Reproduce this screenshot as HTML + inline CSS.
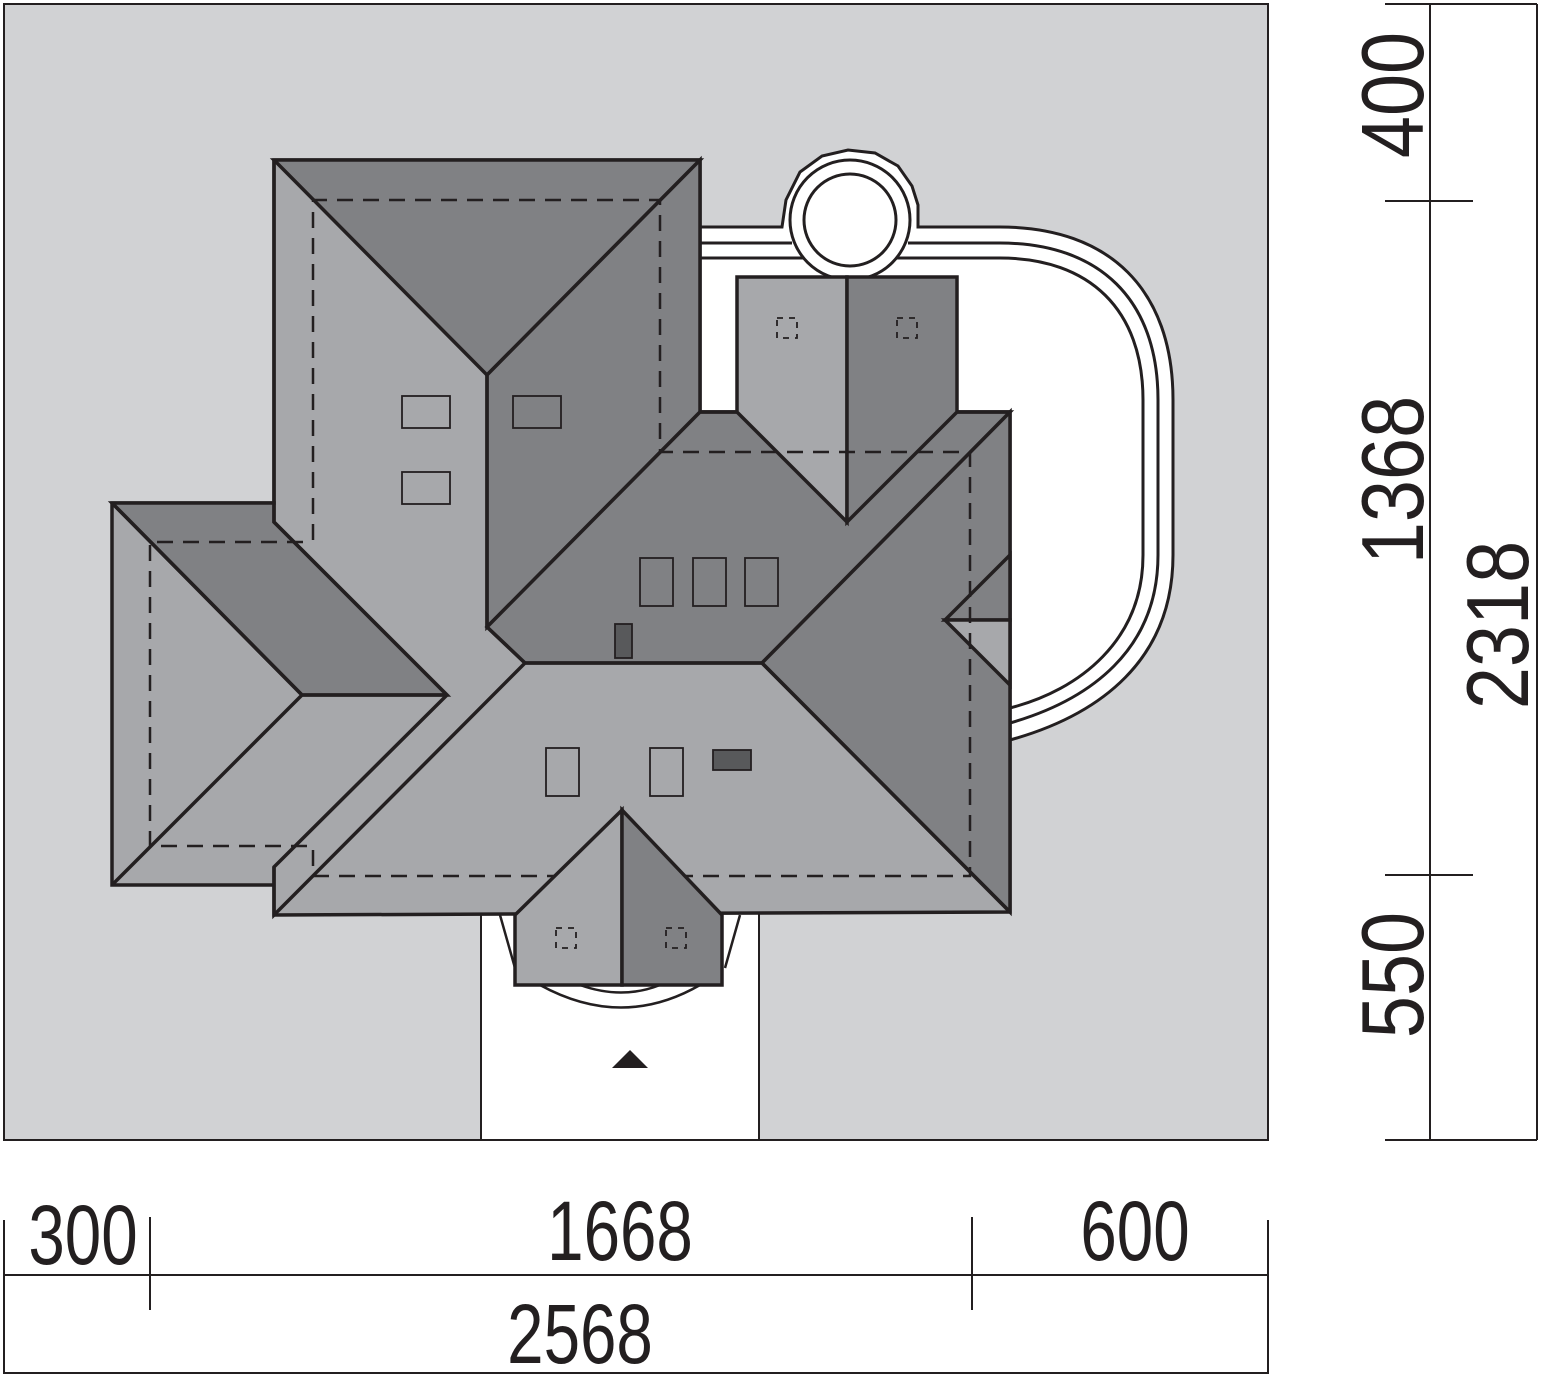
<!DOCTYPE html>
<html><head><meta charset="utf-8"><style>
html,body{margin:0;padding:0;background:#fff;}
svg{display:block;}
text{font-family:"Liberation Sans",sans-serif;fill:#231f20;}
</style></head><body>
<svg width="1541" height="1376" viewBox="0 0 1541 1376" xmlns="http://www.w3.org/2000/svg">
<rect x="0" y="0" width="1541" height="1376" fill="#fff"/>
<rect x="4" y="4" width="1264" height="1136" fill="#d1d2d4" stroke="#231f20" stroke-width="2"/>

<path d="M700,227 H782 L786,200 L800,172 L822,156 L848,150 L875,153 L898,166 L912,186 L918,205 L918,227 H1000 C1110,227 1173,290 1173,400 V555 C1173,660 1100,715 1010,740 V420 H700 Z" fill="#fff"/>
<g fill="none" stroke="#231f20" stroke-width="3">
<path d="M700,227 H782 L786,200 L800,172 L822,156 L848,150 L875,153 L898,166 L912,186 L918,205 L918,227 H1000 C1110,227 1173,290 1173,400 V555 C1173,660 1100,715 1010,740"/>
<path d="M700,243 H792 M908,243 H1000 C1100,243 1158,300 1158,400 V555 C1158,650 1090,700 1010,723"/>
<path d="M700,258 H1000 C1090,258 1143,310 1143,400 V555 C1143,640 1080,690 1010,708"/>
<circle cx="850" cy="220" r="60" fill="#fff"/>
<circle cx="850" cy="220" r="46"/>
</g>

<rect x="481" y="912" width="278" height="228" fill="#fff" stroke="#231f20" stroke-width="2"/>
<g fill="none" stroke="#231f20" stroke-width="2.5">
<path d="M540,985 Q622,1030 700,985"/>
<path d="M580,985 Q622,1000 660,985"/>
<path d="M500,915 L515,968 M740,915 L725,968"/>
</g>
<polygon points="612,1068 648,1068 630,1050" fill="#231f20"/>

<g stroke="#231f20" stroke-width="3.5" stroke-linejoin="miter">
<polygon fill="#a7a8ab" points="274,160 700,160 700,412 1010,412 1010,912 274,915 274,867 274,885 112,885 112,503 274,503"/>
<polygon fill="#808184" points="274,160 700,160 487,375"/>
<polygon fill="#808184" points="700,160 700,412 487,627 487,375"/>
<polygon fill="#808184" points="487,627 700,412 1010,412 762,663 525,663"/>
<polygon fill="#808184" points="1010,412 1010,912 762,663"/>
<polygon fill="#808184" points="112,503 274,503 274,522 447,695 302,695"/>
<polygon fill="#a7a8ab" points="737,277 847,277 847,522 737,412"/>
<polygon fill="#808184" points="847,277 957,277 957,412 847,522"/>
<polygon fill="#808184" points="1010,555 945,620 1010,620"/>
<polygon fill="#a7a8ab" points="1010,620 945,620 1010,685"/>
</g>
<g stroke="#231f20" stroke-width="3.5" fill="none">
<path d="M274,160 V522 L447,695 L274,867 V915 L525,663 H762 L1010,912"/>
<path d="M487,375 V627 L525,663"/>
<path d="M112,503 L302,695 H447 M302,695 L112,885"/>
<path d="M700,412 H737 M957,412 H1010"/>
</g>
<g stroke="#231f20" stroke-width="2.5" fill="none" stroke-dasharray="16,10">
<path d="M313,540 V200 H660 V452 H970 V876 H313 V846 H150 V542 H313"/>
</g>
<g fill="none" stroke="#231f20" stroke-width="1.8">
<rect x="402" y="396" width="48" height="32"/><rect x="513" y="396" width="48" height="32"/><rect x="402" y="472" width="48" height="32"/>
<rect x="640" y="558" width="33" height="48"/><rect x="693" y="558" width="33" height="48"/><rect x="745" y="558" width="33" height="48"/>
<rect x="546" y="748" width="33" height="48"/><rect x="650" y="748" width="33" height="48"/>
</g>
<rect x="615" y="624" width="17" height="34" fill="#58595b" stroke="#231f20" stroke-width="1.8"/>
<rect x="713" y="750" width="38" height="20" fill="#58595b" stroke="#231f20" stroke-width="1.8"/>

<g stroke="#231f20" stroke-width="3.5">
<polygon fill="#a7a8ab" points="515,915 622,810 622,985 515,985"/>
<polygon fill="#808184" points="622,810 722,915 722,985 622,985"/>
</g>
<g fill="none" stroke="#231f20" stroke-width="1.8" stroke-dasharray="6,6">
<rect x="777" y="318" width="20" height="20"/><rect x="897" y="318" width="20" height="20"/>
<rect x="556" y="928" width="20" height="20"/><rect x="666" y="928" width="20" height="20"/>
</g>

<g stroke="#231f20" stroke-width="2" fill="none">
<path d="M1430,4 V1140 M1537,4 V1140 M1385,4 H1537 M1385,201 H1473 M1385,875 H1473 M1385,1140 H1537"/>
<path d="M4,1275 H1268 M4,1220 V1373 H1268 V1220 M150,1217 V1310 M972,1217 V1310"/>
</g>
<g font-size="88">
<text transform="translate(1423,95) rotate(-90) scale(0.86,1)" text-anchor="middle">400</text>
<text transform="translate(1423,480) rotate(-90) scale(0.86,1)" text-anchor="middle">1368</text>
<text transform="translate(1423,975) rotate(-90) scale(0.86,1)" text-anchor="middle">550</text>
<text transform="translate(1528,625) rotate(-90) scale(0.86,1)" text-anchor="middle">2318</text>
</g>
<g font-size="84">
<text transform="translate(83,1264) scale(0.78,1)" text-anchor="middle">300</text>
<text transform="translate(620,1260) scale(0.78,1)" text-anchor="middle">1668</text>
<text transform="translate(1135,1260) scale(0.78,1)" text-anchor="middle">600</text>
<text transform="translate(580,1363) scale(0.78,1)" text-anchor="middle">2568</text>
</g>
</svg>
</body></html>
